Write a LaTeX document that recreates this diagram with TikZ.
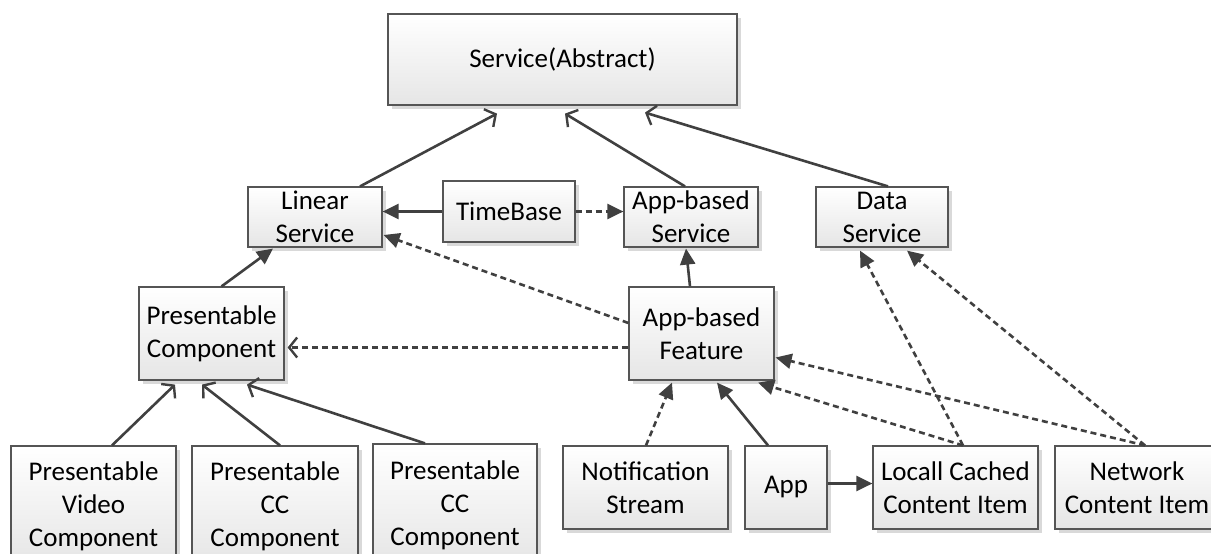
\documentclass[tikz,border=0pt]{standalone}
\usepackage{fontspec}
\setmainfont{Carlito}
\usetikzlibrary{positioning, calc, arrows.meta, shadows}
\definecolor{linkgray}{HTML}{404040}
\definecolor{framegray}{HTML}{555555}

\begin{document}
\begin{tikzpicture}[x=1pt, y=-1pt,
				box/.style={draw=framegray, line width=1.2pt, top color=white, bottom color=black!10,
					drop shadow={shadow xshift=4pt, shadow yshift=-4pt, fill=black!15, opacity=1},
					align=center, inner sep=0pt, font=\fontsize{27}{33}\selectfont},
				link/.style={draw=linkgray, line width=2.6pt},
				inherit/.style={link, -{Straight Barb[length=8pt, width=20pt, line width=2.4pt]}},
				uses/.style={link, -{Triangle[length=16pt, width=15pt]}},
				depend/.style={uses, dash pattern=on 6pt off 4pt},
				weakinherit/.style={inherit, dash pattern=on 6pt off 4pt}]
				\useasboundingbox (0,0) rectangle (1211,554);
				\clip (0,0) rectangle (1211,554);
				% top level
				\node[box, minimum width=349pt, minimum height=91pt] (svc) at (562.5,59.5) {Service(Abstract)};
				% services
				\node[box, minimum width=134pt, minimum height=60pt] (lin) at (315,217) {Linear\\Service};
				\node[box, minimum width=132pt, minimum height=61pt] (tb) at (509,211.5) {TimeBase};
				\node[box, minimum width=134pt, minimum height=60pt] (abs) at (691,217) {App-based\\Service};
				\node[box, minimum width=132pt, minimum height=60pt] (ds) at (882,217) {Data\\Service};
				% middle row
				\node[box, minimum width=145pt, minimum height=93pt] (pc) at (211.5,333.5) {Presentable\\Component};
				\node[box, minimum width=145pt, minimum height=93pt] (abf) at (701.5,333.5) {App-based\\Feature};
				% bottom row
				\node[box, minimum width=165pt, minimum height=120pt] (pvc) at (93.5,506) {Presentable\\Video\\Component};
				\node[box, minimum width=166pt, minimum height=120pt] (pcc) at (275,506) {Presentable\\CC\\Component};
				\node[box, minimum width=164pt, minimum height=122pt] (pcc2) at (455,505) {Presentable\\CC\\Component};
				\node[box, minimum width=165pt, minimum height=83pt] (ns) at (645.5,487.5) {Notification\\Stream};
				\node[box, minimum width=82pt, minimum height=83pt] (app) at (786,487.5) {App};
				\node[box, minimum width=165pt, minimum height=83pt] (lcc) at (955.5,487.5) {Locall Cached\\Content Item};
				\node[box, minimum width=164pt, minimum height=83pt] (nci) at (1137,487.5) {Network\\Content Item};
				% generalisation
				\draw[inherit] ($(lin.north)+(45,0)$) -- ($(svc.south)+(-65.5,8)$);
				\draw[inherit] ($(abs.north)+(-6,0)$) -- ($(svc.south)+(2.5,8)$);
				\draw[inherit] ($(ds.north)+(6,0)$) -- ($(svc.south)+(82.5,7)$);
				\draw[inherit] ($(pvc.north)+(18.5,0)$) -- ($(pc.south)+(-36.5,4)$);
				\draw[inherit] ($(pcc.north)+(5,0)$) -- ($(pc.south)+(-9.5,4)$);
				\draw[inherit] ($(pcc2.north)+(-30,0)$) -- ($(pc.south)+(35.5,4)$);
				\draw[weakinherit] ($(abf.west)+(0,14)$) -- ($(pc.east)+(3,14)$);
				% associations
				\draw[uses] (tb.west) -- (tb.west -| lin.east);
				\draw[depend] (tb.east) -- (tb.east -| abs.west);
				\draw[uses] ($(pc.north)+(10,0)$) -- ($(lin.south)+(-42,1)$);
				\draw[uses] ($(abf.north)+(-11.5,0)$) -- ($(abs.south)+(-5,1)$);
				\draw[depend] ($(abf.west)+(0,-10.5)$) -- ($(lin.east)+(1,18)$);
				\draw[depend] ($(ns.north)+(0.5,0)$) -- ($(abf.south)+(-29.5,2)$);
				\draw[uses] ($(app.north)+(-18,0)$) -- ($(abf.south)+(15.5,2)$);
				\draw[uses] ($(app.east)+(0,-4)$) -- ($(app.east -| lcc.west)+(0,-4)$);
				\draw[depend] ($(lcc.north)+(7.5,0)$) -- ($(abf.south)+(56.5,2)$);
				\draw[depend] ($(nci.north)+(8,0)$) -- ($(abf.east)+(1,24)$);
				\draw[depend] ($(lcc.north)+(7.5,0)$) -- ($(ds.south)+(-22,3)$);
				\draw[depend] ($(nci.north)+(8,0)$) -- ($(ds.south)+(25,3)$);
			\end{tikzpicture}
\end{document}
